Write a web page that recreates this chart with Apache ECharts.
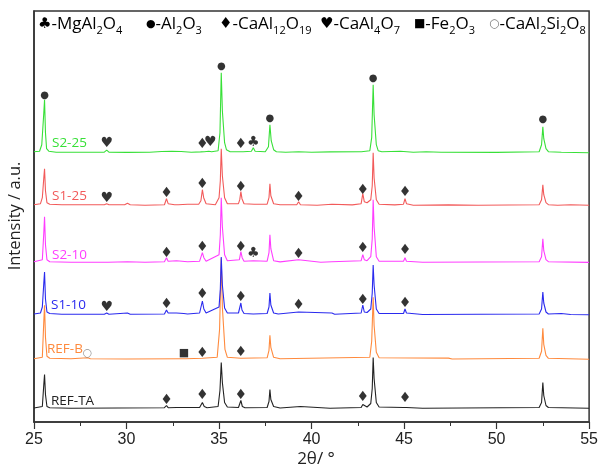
<!DOCTYPE html>
<html><head><meta charset="utf-8">
<script src="https://cdn.jsdelivr.net/npm/echarts@6/dist/echarts.min.js"></script>
<style>html,body{margin:0;padding:0;background:#fff}#c{width:601px;height:468px}</style>
</head><body><div id="c"></div>
<script>
// ---- data: 2θ (deg), relative intensity above each trace's baseline (a.u.) ----
const traceNames = ['REF-TA','REF-B','S1-10','S2-10','S1-25','S2-25'];
const traceOffsets = [13.5, 62.7, 107, 159.3, 216.3, 269.3];
const REF_TA = [[25,0.5],[25.45,2],[25.53,24],[25.57,34],[25.62,14],[25.7,2],[25.85,0.8],[27,0.3],[32.05,0.8],[32.16,3],[32.25,0.8],[32.7,1],[33.3,1],[33.95,1],[34.1,6],[34.2,2],[34.35,0.8],[34.95,2],[35.05,18],[35.12,46],[35.18,26],[35.23,25],[35.3,6],[35.45,1.5],[36.05,1],[36.18,8],[36.26,2],[36.4,0.8],[37.6,1],[37.7,7],[37.75,19],[37.8,9],[37.85,8],[37.95,2],[38.3,0.5],[39.4,2],[39.5,0.5],[41,0.3],[42.68,1],[42.77,4],[42.85,2],[43.0,1.5],[43.2,5],[43.28,20],[43.33,51],[43.38,30],[43.43,29],[43.5,6],[43.65,1.5],[44.97,1],[45.05,3],[45.13,1],[46,0.3],[52.3,1],[52.43,6],[52.5,26],[52.55,13],[52.6,13],[52.67,3],[52.8,1],[55,0.3]];
const REF_B = [[25,0.5],[25.45,2],[25.53,38],[25.57,54],[25.62,22],[25.7,3],[25.85,1],[27,0.5],[27.9,1.5],[28.05,0.5],[30,0.3],[33.0,0.5],[33.1,1.5],[33.2,0.5],[34.1,1],[34.9,2],[35.03,30],[35.12,101],[35.18,52],[35.23,50],[35.32,10],[35.45,2],[36.18,1],[37.6,1.5],[37.7,9],[37.75,24],[37.8,12],[37.85,12],[37.95,2],[38.3,0.5],[43.15,2],[43.25,18],[43.33,62],[43.38,34],[43.43,33],[43.5,7],[43.65,1.5],[47.4,1.2],[47.6,0.3],[52.3,1],[52.43,8],[52.5,31],[52.55,15],[52.6,15],[52.67,4],[52.8,1],[55,0]];
const S1_10 = [[25,1],[25.35,2],[25.45,8],[25.5,9],[25.53,32],[25.57,43],[25.62,16],[25.7,3],[25.85,1.5],[26.5,0.8],[28.8,0.8],[28.93,2],[29.05,0.8],[30.05,2],[30.2,0.8],[32.05,1],[32.16,5],[32.25,2],[32.7,2],[33.1,1.5],[33.3,1],[33.95,2],[34.1,14],[34.18,6],[34.3,2],[35.0,8],[35.07,26],[35.12,58],[35.18,30],[35.23,30],[35.3,7],[35.45,2],[36.05,2],[36.18,12],[36.24,5],[36.35,1.5],[36.85,1],[37.6,1.5],[37.7,8],[37.75,22],[37.8,10],[37.85,10],[37.95,2],[38.2,1],[39.3,3],[39.4,1],[41.1,2],[41.25,0.8],[42.68,2],[42.77,10],[42.85,3],[43.0,2.5],[43.2,6],[43.28,22],[43.33,50],[43.38,30],[43.43,30],[43.5,6],[43.65,1.5],[44.97,1.5],[45.05,6],[45.13,2],[46,0.5],[52.3,1],[52.43,6],[52.5,23],[52.55,12],[52.6,12],[52.67,3],[52.8,1],[53.5,1.5],[54,0.5],[55,0.3]];
const S2_10 = [[25,1],[25.45,3],[25.53,30],[25.57,46],[25.62,18],[25.7,3],[25.85,1],[27,0.5],[29,0.5],[30.05,1],[31,0.5],[32.05,1],[32.16,5],[32.25,1.5],[32.7,2],[33.3,1],[33.95,1.5],[34.1,10],[34.18,5],[34.3,1.5],[35.0,8],[35.07,28],[35.12,65],[35.18,36],[35.23,35],[35.3,8],[35.45,2],[36.1,3],[36.18,11],[36.25,5],[36.35,1.5],[36.85,2],[37.6,1.5],[37.7,10],[37.75,28],[37.8,14],[37.85,13],[37.95,2],[38.3,0.8],[39.3,3],[39.4,1],[40.5,0.5],[41.1,1],[42.68,2],[42.77,8],[42.85,3],[43.0,2],[43.2,6],[43.28,24],[43.33,63],[43.38,36],[43.43,35],[43.5,6],[43.65,1.5],[44.97,1.5],[45.05,5],[45.13,1.5],[46,0.5],[52.3,1],[52.43,6],[52.5,24],[52.55,12],[52.6,12],[52.67,3],[52.8,1],[55,0.3]];
const S1_25 = [[25,1],[25.35,2],[25.45,8],[25.5,9],[25.53,28],[25.57,37],[25.62,15],[25.7,3],[25.85,1.5],[26.5,1],[28.8,1],[28.93,2],[29.05,1],[29.9,1],[30.05,2.5],[30.2,1],[31,0.5],[32.05,1],[32.16,7],[32.25,2],[32.6,1],[32.7,2.5],[32.8,1],[33.3,1.5],[33.9,1.5],[34.02,5],[34.1,16],[34.17,8],[34.3,2],[34.8,1],[35.0,8],[35.07,25],[35.12,57],[35.18,30],[35.23,29],[35.3,8],[35.45,2],[36.05,2],[36.12,6],[36.18,14],[36.24,7],[36.35,2],[36.9,1.5],[37.6,1.5],[37.7,8],[37.75,22],[37.8,10],[37.85,9],[37.95,2],[38.3,1],[39.2,1],[39.3,4],[39.4,1],[40.3,0.5],[41.1,1.5],[42.2,0.8],[42.68,2],[42.77,12],[42.85,4],[43.0,3],[43.2,6],[43.28,20],[43.33,53],[43.38,28],[43.43,27],[43.5,6],[43.65,1.5],[44.5,0.8],[44.97,1.5],[45.05,7],[45.13,2],[45.5,0.5],[47.4,0.8],[49,0.4],[52.3,1],[52.43,6],[52.5,21],[52.55,11],[52.6,11],[52.67,3],[52.8,1],[53.3,0.5],[54,1],[55,0.5]];
const S2_25 = [[25.0,1],[25.3,1.5],[25.42,8],[25.48,10],[25.53,40],[25.57,53],[25.62,20],[25.68,4],[25.8,1.5],[26.2,0.5],[27,0.5],[28.8,0.5],[28.93,2.5],[29.05,0.5],[30,0.3],[31.25,0.5],[31.3,1.2],[31.35,0.5],[31.9,1.2],[32.45,1.5],[32.95,1.2],[33.5,0.5],[34.0,0.8],[34.1,2],[34.2,1],[34.45,1.5],[34.52,3.5],[34.6,1],[34.95,2],[35.05,20],[35.12,80],[35.18,42],[35.23,41],[35.3,10],[35.4,3],[35.6,1],[36.1,1],[36.18,2],[36.3,1],[36.75,1.5],[36.85,5],[36.95,1.5],[37.5,1],[37.67,6],[37.75,28],[37.82,12],[37.87,10],[37.95,3],[38.1,1],[38.6,0.5],[39.3,1],[40,0.5],[41,0.8],[42.7,1],[43.15,2],[43.25,15],[43.33,68],[43.38,38],[43.43,37],[43.5,8],[43.6,2],[43.8,1],[44.8,1.5],[45.5,0.5],[46.2,1],[47,0.5],[50,0.3],[52.3,1],[52.43,8],[52.5,26],[52.55,14],[52.6,14],[52.67,4],[52.8,1],[53.5,0.5],[55,0]];
const traceData = [REF_TA, REF_B, S1_10, S2_10, S1_25, S2_25];
const traceColors = ['#222222','#ff8a3d','#2a2aee','#ff3dff','#f25a5a','#38e038'];

// phase markers [2θ, stacked intensity]
const phaseGlyphs = ['♣','●','♦','♥','■','○'];
const phaseNames = ['MgAl2O4','Al2O3','CaAl12O19','CaAl4O7','Fe2O3','CaAl2Si2O8'];
const mkMgAl2O4 = [[36.85,280],[36.85,169]];
const mkAl2O3 = [[25.57,327],[35.12,356],[37.75,304],[43.33,344],[52.5,303]];
const mkCaAl12O19 = [[34.1,278],[36.18,278],
  [32.16,229],[34.1,238],[36.18,235],[39.3,225],[42.77,232],[45.05,230],
  [32.16,169],[34.1,175],[36.18,175],[39.3,168],[42.77,174],[45.05,172],
  [32.16,118],[34.1,128],[36.18,125],[39.3,117],[42.77,122],[45.05,119],
  [34.1,69],[36.18,70],
  [32.16,22],[34.1,27],[36.18,27],[42.77,25],[45.05,24]];
const mkCaAl4O7 = [[28.93,279],[34.52,280],[28.93,224],[28.93,115]];
const mkFe2O3 = [[33.1,69]];
const mkCaAl2Si2O8 = [[27.9,69]];
const markerData = [mkMgAl2O4, mkAl2O3, mkCaAl12O19, mkCaAl4O7, mkFe2O3, mkCaAl2Si2O8];

const xTicks = [25,30,35,40,45,50,55];

const chart = echarts.init(document.getElementById('c'), null, {renderer:'canvas'});
const series = [];
traceData.forEach((d,i)=>{
  series.push({type:'line', name:traceNames[i], data:d.map(p=>[p[0], p[1]+traceOffsets[i]]),
    showSymbol:false, symbol:'none', lineStyle:{width:1.1, color:traceColors[i]}, z:2, silent:true, animation:false});
});
const glyphSize = [14, 10, 14, 14, 11, 11];
markerData.forEach((d,i)=>{
  series.push({type:'scatter', data:d, symbolSize:0, z:5, animation:false, silent:true,
    label:{show:true, position:'inside', formatter:phaseGlyphs[i], color: i===5 ? '#777' : '#000',
      fontSize: glyphSize[i], fontFamily:'DejaVu Sans'}});
});

function chem(s){
  // digits become subscript tokens
  let out = '';
  s.split(/(\d+)/).forEach((part,k)=>{
    if(!part) return;
    out += (k%2===1) ? '{s|'+part+'}' : '{a|'+part+'}';
  });
  return out;
}
const legendX = [38,146,219,320,414,489];
const graphics = [];
phaseNames.forEach((n,i)=>{
  const txt = '{g|'+phaseGlyphs[i]+'}' + chem('-'+n);
  graphics.push({type:'text', x:legendX[i], y:13, style:{text:txt, fill:'#000',
    rich:{a:{fontSize:17, fontFamily:'Open Sans', lineHeight:22, fill:'#000'},
          s:{fontSize:11, fontFamily:'Open Sans', lineHeight:9, padding:[13,0,0,0], fill:'#000'},
          g:{fontSize: glyphSize[i]+1, fontFamily:'DejaVu Sans', lineHeight:22, fill: i===5?'#777':'#000'}}}});
});
const labelPos = [[51,401],[47,349],[51,305],[52,255],[52,196],[52,143]];
traceNames.forEach((n,i)=>{
  graphics.push({type:'text', x:labelPos[i][0], y:labelPos[i][1], style:{text:n, fill:traceColors[i],
    font:'13.5px "Open Sans"', verticalAlign:'middle', align:'left'}});
});
graphics.push({type:'text', x:15, y:216, rotation:Math.PI/2, style:{text:'Intensity / a.u.', fill:'#222',
  font:'16.5px "Open Sans"', align:'center', verticalAlign:'middle'}});
graphics.push({type:'text', x:316, y:459, style:{text:'2θ/ °', fill:'#222',
  font:'17px "Open Sans"', align:'center', verticalAlign:'middle'}});

chart.setOption({
  animation:false,
  backgroundColor:'#fff',
  grid:{left:34, right:7, top:11, bottom:46, show:true, borderColor:'#333', borderWidth:1.5, backgroundColor:'transparent'},
  xAxis:{type:'value', min:xTicks[0], max:xTicks[xTicks.length-1], interval:5,
    axisLine:{show:true, onZero:false, lineStyle:{color:'#333', width:1.5}},
    axisTick:{show:true, length:7, lineStyle:{color:'#333', width:1.2}},
    minorTick:{show:true, splitNumber:2, length:4, lineStyle:{color:'#333', width:1}},
    splitLine:{show:false},
    axisLabel:{margin:10, fontSize:16, color:'#222', fontFamily:'Liberation Sans'}},
  yAxis:{type:'value', min:0, max:411, show:true, axisLine:{show:true, lineStyle:{color:'#333', width:1.5}},
    axisTick:{show:false}, axisLabel:{show:false}, splitLine:{show:false}},
  series:series,
  graphic:graphics
});
</script></body></html>
